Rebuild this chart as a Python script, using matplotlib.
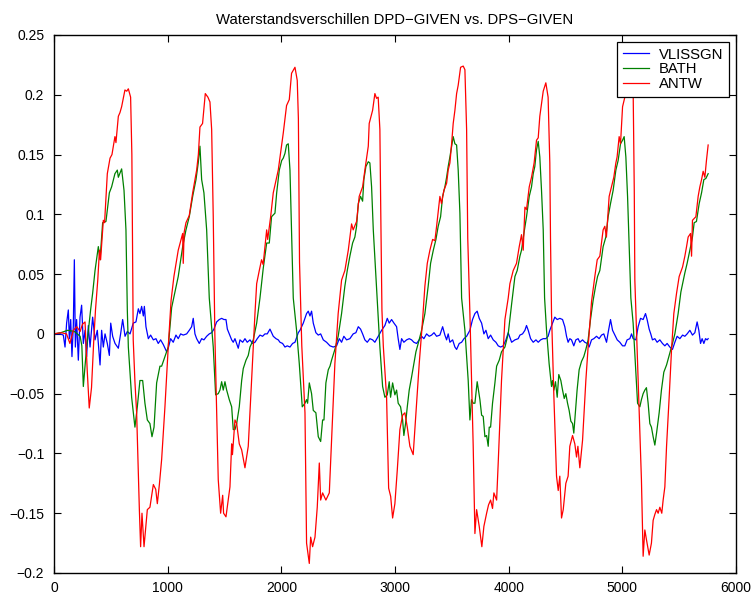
import matplotlib
matplotlib.use("Agg")
import matplotlib.pyplot as plt

plt.rcParams['font.family'] = ['Liberation Sans', 'DejaVu Sans']

title = "Waterstandsverschillen DPD\u2212GIVEN vs. DPS\u2212GIVEN"
series_names = ["VLISSGN", "BATH", "ANTW"]

vliss_x = [0, 53, 82, 97, 111, 126, 135, 147, 158, 170, 179, 188, 199, 214, 229, 243, 258, 273, 287, 302,
           317, 340, 361, 381, 405, 419, 434, 449, 469, 487, 499, 516, 537, 566, 586, 604, 625, 645, 669, 697,
           721, 742, 756, 771, 786, 795, 809, 830, 850, 874, 897, 917, 938, 962, 991, 1005, 1026, 1049, 1073, 1093,
           1114, 1137, 1167, 1190, 1211, 1225, 1240, 1255, 1278, 1299, 1319, 1343, 1366, 1387, 1407, 1431, 1454, 1475, 1495, 1513,
           1525, 1542, 1563, 1577, 1592, 1607, 1621, 1636, 1660, 1680, 1700, 1724, 1747, 1768, 1788, 1812, 1835, 1856, 1876, 1900,
           1914, 1929, 1953, 1973, 1988, 2011, 2032, 2052, 2076, 2099, 2120, 2149, 2164, 2193, 2222, 2237, 2252, 2266, 2281, 2304,
           2325, 2346, 2369, 2398, 2428, 2457, 2486, 2510, 2530, 2550, 2574, 2603, 2632, 2656, 2677, 2697, 2715, 2735, 2756, 2779,
           2803, 2823, 2852, 2882, 2911, 2932, 2949, 2970, 2991, 3014, 3028, 3043, 3058, 3078, 3102, 3125, 3146, 3166, 3190, 3213,
           3234, 3254, 3278, 3301, 3322, 3343, 3366, 3395, 3419, 3439, 3454, 3468, 3483, 3507, 3527, 3542, 3565, 3586, 3607, 3630,
           3659, 3682, 3703, 3723, 3741, 3762, 3782, 3800, 3820, 3841, 3864, 3888, 3908, 3929, 3952, 3976, 3996, 4026, 4055, 4084,
           4099, 4122, 4143, 4157, 4172, 4193, 4216, 4240, 4260, 4281, 4304, 4327, 4347, 4362, 4386, 4406, 4427, 4450, 4474, 4494,
           4509, 4523, 4538, 4553, 4573, 4591, 4611, 4626, 4650, 4670, 4691, 4708, 4729, 4749, 4773, 4796, 4817, 4837, 4861, 4875,
           4896, 4914, 4934, 4955, 4978, 5002, 5022, 5042, 5066, 5081, 5095, 5119, 5139, 5160, 5183, 5204, 5218, 5236, 5250, 5265,
           5286, 5306, 5330, 5353, 5374, 5394, 5418, 5441, 5462, 5482, 5506, 5530, 5550, 5570, 5594, 5617, 5638, 5658, 5673, 5688,
           5702, 5717, 5732, 5746, 5755]
vliss_y = [0.000, 0.000, -0.001, -0.011, 0.009, 0.020, -0.004, 0.012, -0.019, 0.007, 0.062, -0.011, 0.012, -0.022, 0.014, 0.024, -0.008, 0.003, -0.019, 0.007,
           -0.011, 0.014, -0.005, 0.003, -0.026, 0.003, -0.011, 0.000, -0.008, -0.018, 0.009, -0.002, -0.008, -0.012, 0.000, 0.012, -0.002, 0.002, 0.000, 0.009,
           0.010, 0.021, 0.017, 0.023, 0.015, 0.023, 0.006, -0.004, -0.001, -0.005, -0.004, -0.008, -0.005, -0.009, -0.015, -0.012, -0.004, -0.007, -0.001, -0.004,
           0.000, -0.001, 0.000, 0.003, 0.006, 0.013, 0.000, -0.004, -0.008, -0.004, -0.005, -0.002, 0.000, 0.001, 0.004, 0.010, 0.012, 0.013, 0.012, 0.012,
           0.004, 0.000, -0.005, -0.007, -0.004, -0.008, -0.012, -0.005, -0.007, -0.004, -0.007, -0.005, -0.008, -0.007, -0.004, -0.001, -0.002, 0.000, 0.000, 0.004,
           0.001, -0.002, -0.004, -0.005, -0.007, -0.008, -0.011, -0.010, -0.011, -0.008, -0.007, 0.001, 0.003, 0.009, 0.017, 0.019, 0.015, 0.019, 0.009, 0.001,
           -0.001, 0.000, -0.005, -0.007, -0.010, -0.011, -0.010, -0.004, -0.007, -0.002, -0.005, -0.004, 0.000, 0.001, 0.006, 0.004, 0.000, -0.005, -0.007, -0.004,
           -0.005, -0.007, -0.002, 0.003, 0.007, 0.013, 0.009, 0.012, 0.009, 0.006, -0.004, -0.013, -0.004, -0.007, -0.005, -0.004, -0.005, -0.007, -0.008, -0.005,
           -0.002, -0.004, 0.000, -0.002, -0.001, 0.001, -0.002, -0.001, 0.006, -0.001, -0.005, 0.000, -0.007, -0.005, -0.011, -0.013, -0.008, -0.007, -0.004, -0.002,
           0.003, 0.012, 0.017, 0.019, 0.013, 0.009, 0.000, 0.003, -0.004, -0.001, -0.005, -0.007, -0.010, -0.011, -0.010, -0.005, 0.001, -0.007, -0.005, -0.004,
           -0.001, 0.000, 0.003, 0.007, 0.003, -0.004, -0.007, -0.005, -0.007, -0.005, -0.004, -0.004, -0.002, 0.003, 0.009, 0.014, 0.012, 0.013, 0.012, 0.006,
           -0.002, -0.007, -0.004, -0.005, -0.010, -0.005, -0.004, -0.007, -0.005, -0.007, -0.008, -0.011, -0.005, -0.004, -0.002, -0.004, -0.001, 0.000, -0.007, 0.001,
           0.012, 0.003, -0.001, -0.005, -0.007, -0.010, -0.010, -0.005, -0.004, 0.000, -0.004, -0.005, 0.006, 0.013, 0.012, 0.017, 0.012, 0.004, 0.000, -0.005,
           -0.004, -0.007, -0.005, -0.008, -0.010, -0.008, -0.011, -0.013, -0.007, -0.002, -0.004, -0.001, -0.002, 0.000, 0.003, -0.001, 0.001, 0.010, 0.003, -0.008,
           -0.004, -0.008, -0.004, -0.005, -0.004]

bath_x = [0, 60, 120, 180, 230, 245, 258, 287, 322, 340, 361, 390, 405, 428, 457, 487, 507, 536, 557, 566,
          595, 616, 633, 645, 654, 683, 712, 733, 756, 780, 800, 821, 844, 862, 880, 903, 932, 947, 976, 1005,
          1035, 1064, 1093, 1132, 1161, 1190, 1220, 1249, 1269, 1284, 1299, 1319, 1343, 1366, 1401, 1422, 1445, 1460, 1475, 1489,
          1504, 1519, 1542, 1563, 1577, 1592, 1607, 1630, 1651, 1665, 1689, 1709, 1724, 1753, 1783, 1812, 1841, 1871, 1894, 1914,
          1944, 1959, 1982, 2003, 2017, 2032, 2046, 2061, 2076, 2090, 2105, 2134, 2158, 2184, 2208, 2222, 2231, 2246, 2266, 2281,
          2304, 2325, 2346, 2363, 2375, 2392, 2413, 2428, 2442, 2471, 2500, 2530, 2559, 2580, 2603, 2627, 2647, 2662, 2677, 2697,
          2715, 2726, 2744, 2765, 2779, 2794, 2809, 2825, 2840, 2867, 2891, 2911, 2932, 2949, 2961, 2979, 2999, 3014, 3028, 3049,
          3067, 3078, 3093, 3108, 3125, 3146, 3166, 3184, 3204, 3234, 3263, 3292, 3313, 3337, 3360, 3380, 3401, 3419, 3439, 3454,
          3468, 3483, 3498, 3512, 3527, 3542, 3556, 3571, 3586, 3615, 3644, 3659, 3673, 3688, 3703, 3723, 3747, 3762, 3776, 3791,
          3806, 3820, 3829, 3841, 3858, 3879, 3894, 3917, 3937, 3967, 3996, 4026, 4055, 4075, 4099, 4113, 4134, 4157, 4181, 4201,
          4216, 4230, 4245, 4260, 4274, 4289, 4304, 4316, 4333, 4356, 4377, 4386, 4398, 4412, 4427, 4441, 4459, 4474, 4489, 4503,
          4518, 4532, 4547, 4562, 4573, 4591, 4602, 4620, 4641, 4661, 4679, 4699, 4720, 4743, 4765, 4782, 4802, 4831, 4855, 4875,
          4896, 4919, 4943, 4963, 4984, 5002, 5016, 5031, 5046, 5060, 5075, 5095, 5119, 5134, 5154, 5168, 5183, 5198, 5212, 5227,
          5242, 5256, 5271, 5286, 5301, 5324, 5344, 5365, 5389, 5418, 5441, 5462, 5491, 5515, 5530, 5550, 5570, 5594, 5617, 5632,
          5652, 5676, 5697, 5717, 5735, 5755]
bath_y = [0.000, 0.001, 0.003, 0.002, -0.002, -0.010, -0.044, -0.011, 0.020, 0.034, 0.053, 0.073, 0.062, 0.093, 0.094, 0.118, 0.123, 0.134, 0.137, 0.131,
          0.138, 0.120, 0.087, 0.020, -0.011, -0.053, -0.078, -0.061, -0.039, -0.039, -0.058, -0.072, -0.075, -0.086, -0.078, -0.041, -0.027, -0.027, -0.019, -0.011,
          0.022, 0.035, 0.048, 0.073, 0.087, 0.098, 0.115, 0.129, 0.143, 0.157, 0.129, 0.118, 0.087, 0.030, -0.011, -0.051, -0.050, -0.047, -0.040, -0.047,
          -0.040, -0.047, -0.055, -0.061, -0.080, -0.080, -0.075, -0.061, -0.039, -0.029, -0.022, -0.018, -0.011, -0.005, 0.009, 0.030, 0.055, 0.076, 0.076, 0.098,
          0.101, 0.118, 0.137, 0.145, 0.147, 0.151, 0.158, 0.159, 0.137, 0.087, 0.030, 0.003, -0.025, -0.061, -0.058, -0.055, -0.058, -0.041, -0.050, -0.064,
          -0.066, -0.086, -0.090, -0.072, -0.072, -0.041, -0.030, -0.027, -0.022, -0.013, -0.002, 0.017, 0.040, 0.053, 0.065, 0.076, 0.081, 0.090, 0.109, 0.115,
          0.111, 0.129, 0.140, 0.144, 0.143, 0.123, 0.087, 0.060, 0.035, -0.011, -0.044, -0.053, -0.051, -0.040, -0.053, -0.041, -0.051, -0.047, -0.058, -0.061,
          -0.072, -0.085, -0.075, -0.061, -0.047, -0.036, -0.025, -0.015, -0.008, 0.003, 0.017, 0.040, 0.059, 0.070, 0.079, 0.090, 0.098, 0.115, 0.123, 0.131,
          0.140, 0.148, 0.157, 0.165, 0.159, 0.158, 0.137, 0.101, 0.030, 0.003, -0.039, -0.072, -0.055, -0.058, -0.058, -0.040, -0.055, -0.068, -0.069, -0.086,
          -0.085, -0.094, -0.078, -0.078, -0.058, -0.041, -0.027, -0.022, -0.015, -0.011, 0.000, 0.025, 0.048, 0.053, 0.065, 0.070, 0.084, 0.098, 0.115, 0.123,
          0.134, 0.140, 0.154, 0.161, 0.148, 0.120, 0.087, 0.030, 0.003, -0.025, -0.044, -0.039, -0.047, -0.040, -0.053, -0.034, -0.039, -0.047, -0.054, -0.050,
          -0.058, -0.064, -0.073, -0.075, -0.083, -0.061, -0.047, -0.030, -0.023, -0.019, -0.013, -0.005, 0.012, 0.028, 0.040, 0.048, 0.053, 0.073, 0.081, 0.098,
          0.109, 0.120, 0.137, 0.145, 0.159, 0.162, 0.165, 0.148, 0.115, 0.073, 0.030, 0.009, -0.033, -0.058, -0.061, -0.055, -0.050, -0.047, -0.045, -0.058,
          -0.075, -0.078, -0.086, -0.093, -0.083, -0.066, -0.047, -0.032, -0.026, -0.016, -0.008, 0.000, 0.017, 0.035, 0.042, 0.051, 0.059, 0.070, 0.081, 0.093,
          0.094, 0.109, 0.118, 0.129, 0.130, 0.134]

antw_x = [0, 60, 110, 140, 170, 200, 230, 250, 273, 292, 310, 330, 350, 365, 385, 400, 410, 434, 445, 469,
          480, 493, 510, 536, 545, 566, 580, 595, 624, 640, 654, 674, 685, 692, 697, 712, 727, 751, 762, 774,
          792, 821, 844, 874, 895, 909, 927, 947, 976, 1005, 1030, 1055, 1093, 1132, 1137, 1145, 1161, 1190, 1220, 1255,
          1270, 1284, 1307, 1331, 1354, 1372, 1387, 1401, 1415, 1431, 1445, 1466, 1484, 1492, 1513, 1548, 1563, 1570, 1592, 1607,
          1630, 1651, 1680, 1709, 1738, 1768, 1783, 1806, 1826, 1840, 1871, 1880, 1906, 1929, 1973, 2017, 2046, 2070, 2090, 2120,
          2140, 2150, 2160, 2180, 2208, 2222, 2246, 2258, 2275, 2296, 2316, 2334, 2346, 2363, 2392, 2422, 2442, 2471, 2500, 2530,
          2559, 2589, 2618, 2632, 2662, 2685, 2715, 2735, 2765, 2773, 2803, 2823, 2838, 2852, 2867, 2875, 2885, 2897, 2926, 2944,
          2962, 2979, 2999, 3020, 3043, 3067, 3087, 3108, 3131, 3160, 3184, 3213, 3243, 3263, 3284, 3307, 3331, 3351, 3366, 3395,
          3409, 3430, 3454, 3468, 3483, 3498, 3512, 3527, 3542, 3556, 3577, 3600, 3615, 3630, 3640, 3659, 3688, 3703, 3718, 3741,
          3764, 3782, 3806, 3823, 3841, 3858, 3870, 3894, 3908, 3937, 3967, 3996, 4011, 4040, 4069, 4093, 4113, 4128, 4143, 4157,
          4181, 4201, 4224, 4245, 4260, 4274, 4304, 4327, 4347, 4362, 4368, 4377, 4398, 4421, 4436, 4450, 4465, 4480, 4503, 4523,
          4538, 4562, 4582, 4597, 4609, 4626, 4650, 4679, 4699, 4729, 4758, 4779, 4802, 4831, 4846, 4860, 4884, 4905, 4925, 4943,
          4954, 4972, 4984, 5002, 5022, 5050, 5075, 5095, 5105, 5110, 5139, 5168, 5183, 5198, 5212, 5236, 5256, 5271, 5286, 5301,
          5315, 5330, 5347, 5359, 5374, 5389, 5412, 5433, 5453, 5477, 5500, 5530, 5550, 5565, 5579, 5600, 5609, 5617, 5647, 5667,
          5682, 5697, 5711, 5726, 5740, 5755]
antw_y = [0.000, 0.001, 0.000, -0.008, 0.003, 0.006, 0.002, 0.008, 0.010, -0.030, -0.062, -0.045, -0.005, 0.020, 0.045, 0.070, 0.062, 0.095, 0.093, 0.134,
          0.140, 0.147, 0.150, 0.165, 0.160, 0.182, 0.185, 0.190, 0.204, 0.203, 0.205, 0.198, 0.150, 0.060, -0.005, -0.040, -0.066, -0.147, -0.178, -0.150,
          -0.178, -0.147, -0.145, -0.126, -0.130, -0.142, -0.126, -0.105, -0.061, -0.011, 0.028, 0.048, 0.070, 0.084, 0.059, 0.085, 0.093, 0.099, 0.118, 0.137,
          0.150, 0.173, 0.176, 0.201, 0.198, 0.194, 0.171, 0.098, 0.000, -0.066, -0.122, -0.150, -0.135, -0.150, -0.153, -0.128, -0.092, -0.101, -0.072, -0.075,
          -0.092, -0.097, -0.112, -0.094, -0.039, 0.017, 0.042, 0.053, 0.062, 0.058, 0.087, 0.079, 0.098, 0.118, 0.137, 0.168, 0.191, 0.196, 0.218, 0.223,
          0.212, 0.180, 0.060, -0.010, -0.066, -0.175, -0.192, -0.170, -0.178, -0.170, -0.145, -0.108, -0.139, -0.133, -0.139, -0.133, -0.089, -0.025, 0.017, 0.045,
          0.053, 0.070, 0.092, 0.087, 0.094, 0.115, 0.123, 0.137, 0.157, 0.176, 0.187, 0.201, 0.197, 0.198, 0.171, 0.100, 0.020, -0.010, -0.053, -0.129,
          -0.136, -0.154, -0.142, -0.114, -0.080, -0.068, -0.066, -0.078, -0.094, -0.101, -0.066, -0.025, 0.012, 0.040, 0.059, 0.070, 0.079, 0.078, 0.090, 0.115,
          0.109, 0.120, 0.126, 0.137, 0.143, 0.159, 0.176, 0.187, 0.201, 0.208, 0.223, 0.224, 0.221, 0.171, 0.080, 0.017, -0.094, -0.167, -0.147, -0.161,
          -0.178, -0.161, -0.150, -0.143, -0.139, -0.146, -0.133, -0.139, -0.108, -0.039, 0.012, 0.030, 0.042, 0.053, 0.059, 0.073, 0.083, 0.070, 0.106, 0.104,
          0.123, 0.131, 0.143, 0.162, 0.164, 0.182, 0.203, 0.210, 0.198, 0.143, 0.080, 0.017, -0.053, -0.119, -0.131, -0.119, -0.154, -0.147, -0.125, -0.119,
          -0.094, -0.085, -0.092, -0.103, -0.094, -0.112, -0.089, -0.039, -0.011, 0.027, 0.048, 0.062, 0.065, 0.087, 0.090, 0.081, 0.115, 0.123, 0.131, 0.143,
          0.148, 0.165, 0.159, 0.190, 0.198, 0.210, 0.215, 0.205, 0.120, 0.045, -0.039, -0.122, -0.186, -0.164, -0.172, -0.185, -0.175, -0.156, -0.151, -0.147,
          -0.150, -0.145, -0.150, -0.139, -0.128, -0.094, -0.053, -0.013, 0.017, 0.034, 0.048, 0.056, 0.065, 0.073, 0.081, 0.084, 0.065, 0.095, 0.098, 0.115,
          0.123, 0.129, 0.136, 0.131, 0.145, 0.158]

x_ticks = [0, 1000, 2000, 3000, 4000, 5000, 6000]
x_labels = ["0", "1000", "2000", "3000", "4000", "5000", "6000"]
y_ticks = [-0.2, -0.15, -0.1, -0.05, 0, 0.05, 0.1, 0.15, 0.2, 0.25]
y_labels = ["\u22120.2", "\u22120.15", "\u22120.1", "\u22120.05", "0", "0.05", "0.1", "0.15", "0.2", "0.25"]

fig = plt.figure(figsize=(7.53, 5.97), dpi=100)
ax = fig.add_axes([54/753, 24/597, (736-54)/753, (573-35)/597])

lw = 0.9
ax.plot(vliss_x, vliss_y, color=(0, 0, 1), lw=lw, label=series_names[0])
ax.plot(bath_x, bath_y, color=(0, 0.5, 0), lw=lw, label=series_names[1])
ax.plot(antw_x, antw_y, color=(1, 0, 0), lw=lw, label=series_names[2])

ax.set_xlim(0, 6000)
ax.set_ylim(-0.2, 0.25)
ax.set_xticks(x_ticks)
ax.set_xticklabels(x_labels)
ax.set_yticks(y_ticks)
ax.set_yticklabels(y_labels)
ax.tick_params(direction='in', top=True, right=True, length=5, width=0.8, labelsize=10)
ax.tick_params(axis='x', pad=6)
ax.tick_params(axis='y', pad=7)
for s in ax.spines.values():
    s.set_linewidth(1.0)

ax.set_title(title, fontsize=10.7, pad=8)

leg = ax.legend(loc='upper right', fancybox=False, edgecolor='black', framealpha=1,
                fontsize=10.7, handlelength=1.75, handletextpad=0.65, borderaxespad=0.45,
                labelspacing=0.05, borderpad=0.4)
leg.get_frame().set_linewidth(0.9)

fig.savefig("out.png", dpi=100)
